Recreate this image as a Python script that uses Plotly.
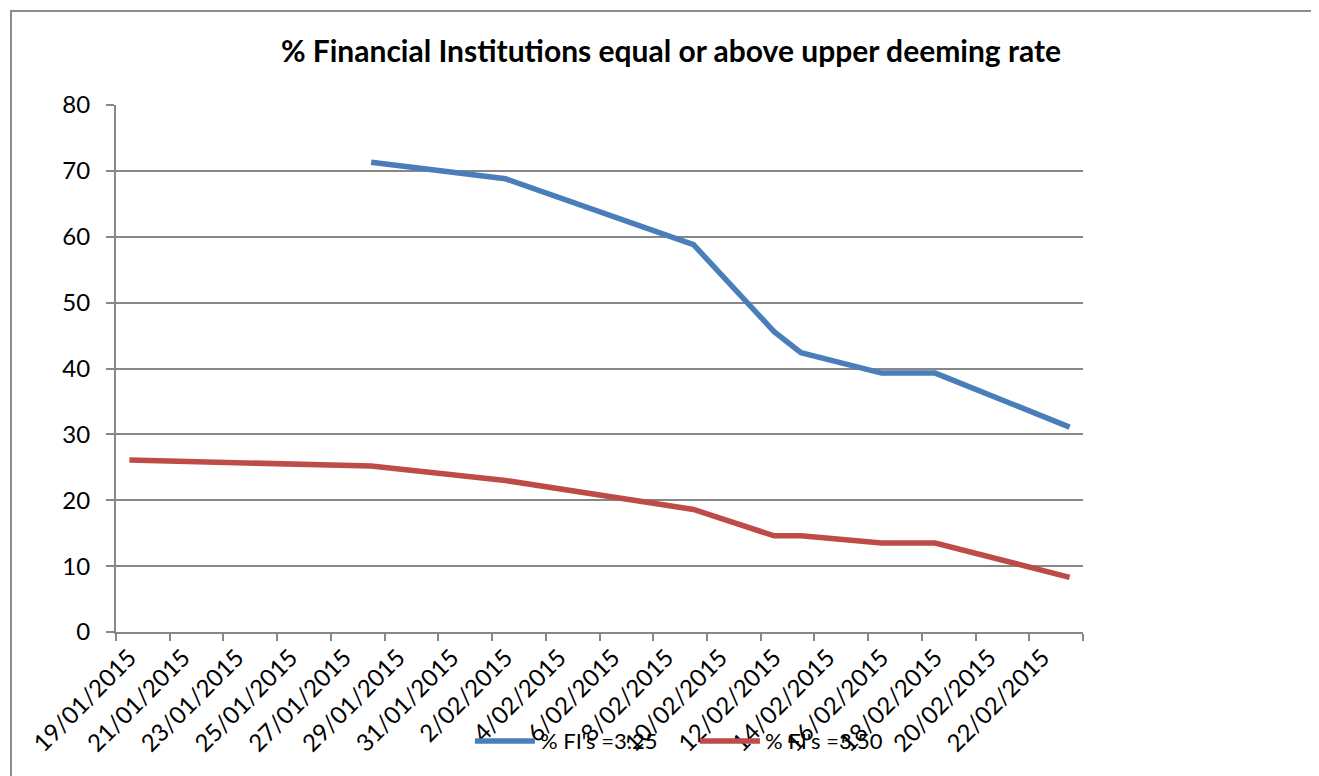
import plotly.graph_objects as go

# survey dates and % of financial institutions at/above each rate
dates = ["2015-01-19", "2015-01-28", "2015-02-02", "2015-02-09", "2015-02-12",
         "2015-02-13", "2015-02-16", "2015-02-18", "2015-02-23"]
fi_325 = [None, 71.3, 68.8, 58.8, 45.6, 42.4, 39.3, 39.3, 31.1]
fi_350 = [26.1, 25.2, 23.0, 18.6, 14.6, 14.6, 13.5, 13.5, 8.3]

names = ["% FI's =3.25", "% FI's =3.50"]
colors = ["#4A7EBB", "#BE4B48"]
title = "% Financial Institutions equal or above upper deeming rate"

FONT = "Lato, Carlito, Calibri, sans-serif"
GRID = "#878787"
DAY = 86400000

fig = go.Figure()
for y, name, c in zip([fi_325, fi_350], names, colors):
    fig.add_trace(go.Scatter(x=dates, y=y, name=name, mode="lines",
                             line=dict(color=c, width=5.5), connectgaps=False))

# page body adds an 8px offset, so the figure is 8px smaller than the window
fig.update_layout(
    width=1311, height=768,
    margin=dict(l=108, r=236, t=97, b=144),
    paper_bgcolor="white", plot_bgcolor="white",
    font=dict(family=FONT, size=22, color="black"),
    title=dict(text="<b>" + title + "</b>", x=0.5057, xanchor="center",
               y=0.943, yanchor="middle",
               font=dict(family=FONT, size=30, color="black")),
    showlegend=True,
    legend=dict(orientation="h", x=0.366, xanchor="left", y=-0.207, yanchor="middle",
                bgcolor="rgba(0,0,0,0)", font=dict(family=FONT, size=22),
                itemwidth=60, entrywidth=150, traceorder="normal"),
)

fig.update_xaxes(
    type="date", range=["2015-01-18 12:00", "2015-02-23 12:00"],
    tickmode="linear", tick0="2015-01-19", dtick=2 * DAY,
    tickformat="%-d/%m/%Y", tickangle=-45, ticks="",
    showgrid=False, zeroline=False,
    showline=True, linecolor=GRID, linewidth=2,
    tickfont=dict(family=FONT, size=24, color="black"),
    minor=dict(ticks="outside", tick0="2015-01-18 12:00", dtick=2 * DAY,
               ticklen=7, tickwidth=2, tickcolor=GRID, showgrid=False),
)
fig.update_yaxes(
    range=[0, 80], tickmode="linear", tick0=0, dtick=10,
    showgrid=True, gridcolor=GRID, gridwidth=2, zeroline=False,
    showline=True, linecolor=GRID, linewidth=2,
    ticks="outside", ticklen=8, tickwidth=2, tickcolor=GRID,
    ticklabelstandoff=11,
    tickfont=dict(family=FONT, size=24, color="black"),
)

# outer chart frame (extends past the right and bottom edges)
fig.add_shape(type="rect", xref="paper", yref="paper",
              x0=-0.1086, y0=-0.4, x1=1.3, y1=1.1784,
              line=dict(color="#8C8C8C", width=2), fillcolor="rgba(0,0,0,0)")

fig.write_html("out.html")
